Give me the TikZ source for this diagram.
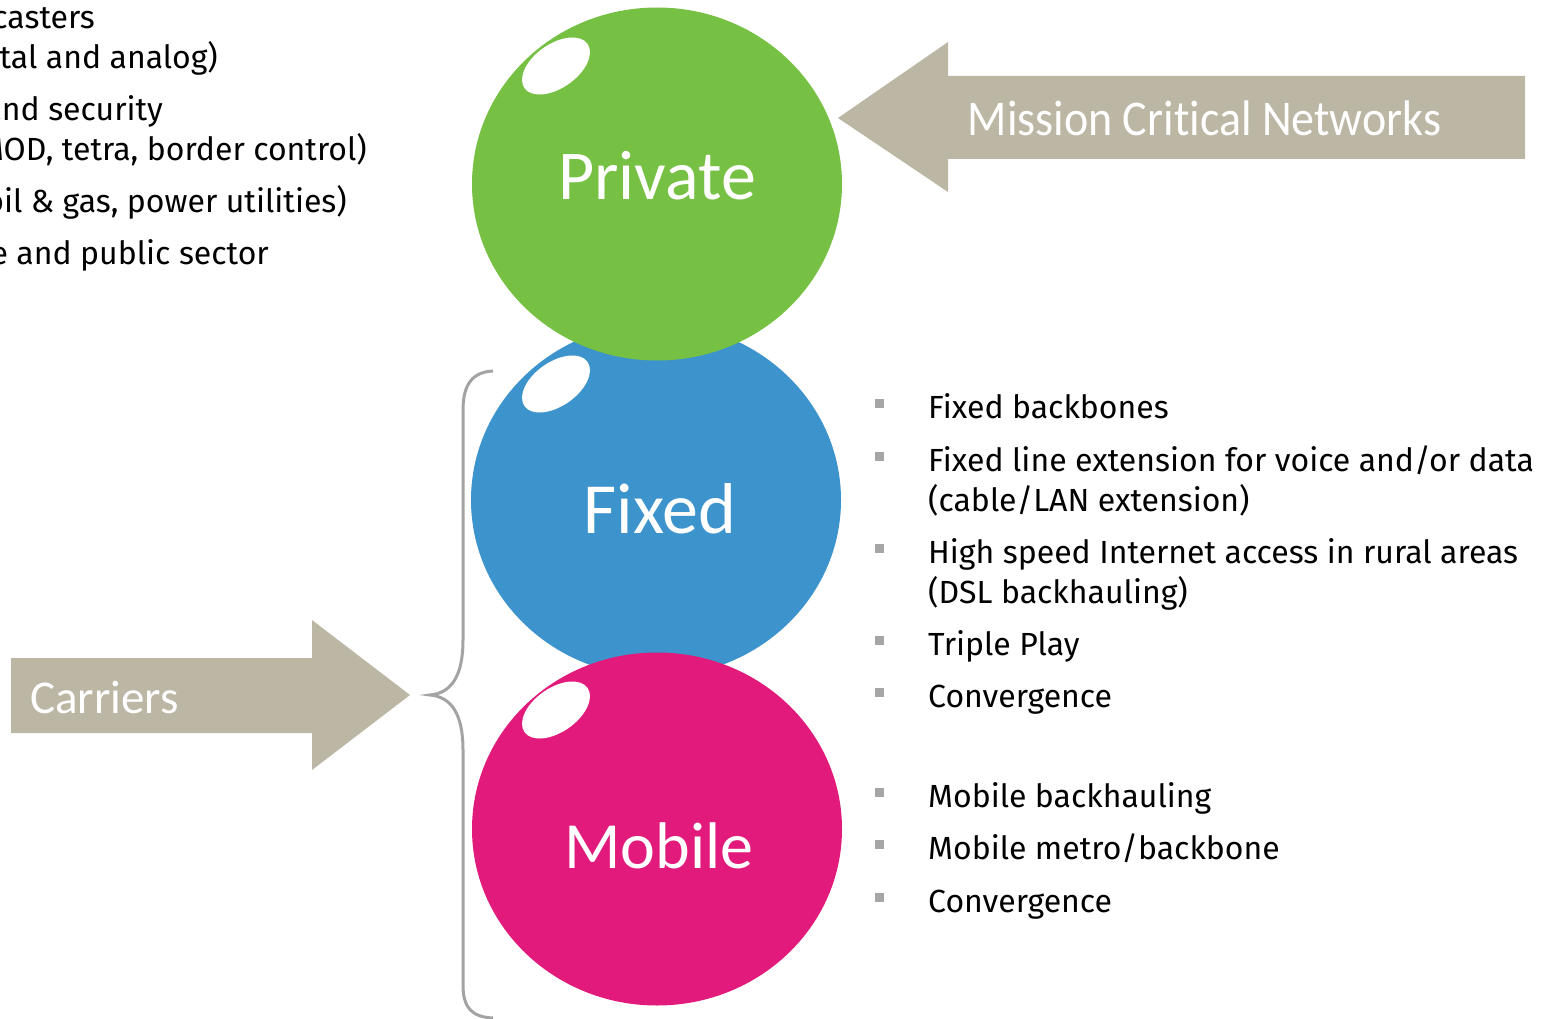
\documentclass[tikz,border=0pt]{standalone}
\usepackage{fontspec}
\usetikzlibrary{shapes.geometric}
\newfontfamily\bulfont[Ligatures=NoCommon]{Fira Sans}
\newfontfamily\lblfont[Ligatures=NoCommon]{Carlito}
\definecolor{cgreen}{HTML}{76C044}
\definecolor{cblue}{HTML}{3D94CD}
\definecolor{cpink}{HTML}{E11A7B}
\definecolor{carrow}{HTML}{BCB7A4}
\definecolor{cbrace}{HTML}{A3A3A3}
\definecolor{cbullet}{HTML}{A6A6A6}
\begin{document}
\begin{tikzpicture}[x=1pt,y=-1pt,
  bubble/.style={ellipse, minimum width=370pt, minimum height=353pt, inner sep=0pt},
  bubtext/.style={anchor=base, inner sep=0pt, text=white, font=\lblfont\fontsize{70}{84}\selectfont},
  shine/.style={fill=white},
  bodytext/.style={anchor=base west, inner sep=0pt, text=black, font=\bulfont\fontsize{32}{38}\selectfont},
  lefttext/.style={anchor=base east, inner sep=0pt, text=black, font=\bulfont\fontsize{32}{38}\selectfont},
  bigarrow/.style={fill=carrow},
  bracestyle/.style={draw=cbrace, line width=3pt}]
\useasboundingbox (0,0) rectangle (1556,1019);
\clip (0,0) rectangle (1556,1019);

% left partial text
\node[lefttext] (l1) at (95,29) {Broadcasters};
\node[lefttext] (l2) at (218,69) {(digital and analog)};
\node[lefttext] (l3) at (163,121) {Defence and security};
\node[lefttext] (l4) at (367,161) {(MOD, tetra, border control)};
\node[lefttext] (l5) at (347,213) {Industry (oil \& gas, power utilities)};
\node[lefttext] (l6) at (269,265) {Enterprise and public sector};

% bubbles
\node[bubble, fill=cblue] (fixed) at (656,500) {};
\node[bubble, fill=cpink] (mobile) at (657,829) {};
\node[bubble, fill=cgreen] (private) at (657,184) {};
\fill[shine, shift={(556,66)}, rotate=35] (0,0) ellipse [x radius=38.5, y radius=22];
\fill[shine, shift={(556,384)}, rotate=35] (0,0) ellipse [x radius=38.5, y radius=22];
\fill[shine, shift={(556,710)}, rotate=35] (0,0) ellipse [x radius=38.5, y radius=22];
\node[bubtext] (privatetxt) at (657,200) {Private};
\node[bubtext, font=\lblfont\fontsize{72}{84}\selectfont] (fixedtxt) at (660,533) {Fixed};
\node[bubtext, font=\lblfont\fontsize{66}{80}\selectfont] (mobiletxt) at (659,868) {Mobile};

% arrows
\fill[bigarrow] (838,118) -- (948,42) -- (948,76) -- (1525,76) -- (1525,159) -- (948,159) -- (948,192) -- cycle;
\node[anchor=base, inner sep=0pt, text=white] (mcn) at (1204.5,136)
  {\scalebox{0.92}[1]{\lblfont\fontsize{50}{60}\selectfont Mission Critical Networks}};
\fill[bigarrow] (11,658) -- (312,658) -- (312,620) -- (410,695) -- (312,770) -- (312,733) -- (11,733) -- cycle;
\node[anchor=base west, inner sep=0pt, text=white, font=\lblfont\fontsize{47}{56}\selectfont] (carriers) at (30,713) {Carriers};

% brace
\draw[bracestyle] (493,371) .. controls (472,372) and (463,385) .. (463,410) -- (463,640)
  .. controls (463,675) and (452,693) .. (430,695)
  .. controls (452,697) and (463,715) .. (463,750) -- (463,985)
  .. controls (463,1008) and (472,1017) .. (493,1018);

% bullets
\foreach \b in {418,471,563,655,707,807,859,912}
  \fill[cbullet] (875,\b-19) rectangle (884,\b-10);

\node[bodytext] (f1) at (928,418) {Fixed backbones};
\node[bodytext] (f2) at (928,471) {Fixed line extension for voice and/or data};
\node[bodytext] (f2b) at (928,511) {(cable/LAN extension)};
\node[bodytext] (f3) at (928,563) {High speed Internet access in rural areas};
\node[bodytext] (f3b) at (928,603) {(DSL backhauling)};
\node[bodytext] (f4) at (928,655) {Triple Play};
\node[bodytext] (f5) at (928,707) {Convergence};
\node[bodytext] (m1) at (928,807) {Mobile backhauling};
\node[bodytext] (m2) at (928,859) {Mobile metro/backbone};
\node[bodytext] (m3) at (928,912) {Convergence};
\end{tikzpicture}
\end{document}
